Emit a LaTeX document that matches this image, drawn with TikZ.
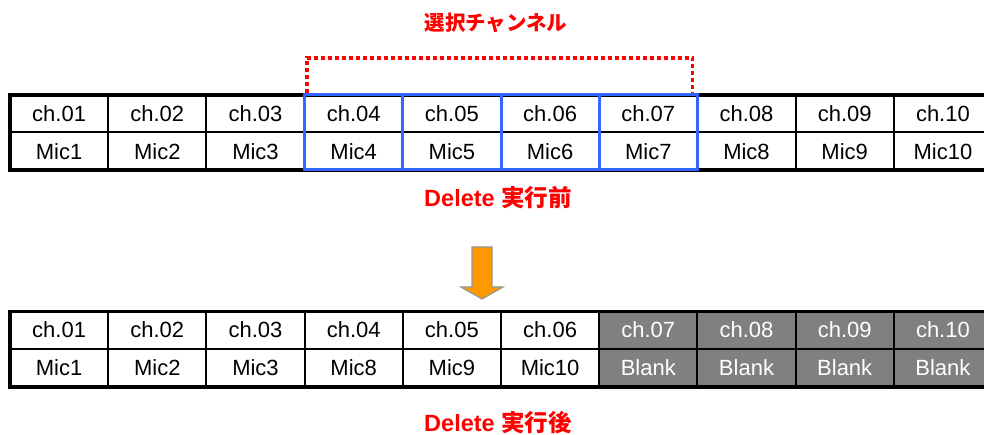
\documentclass[tikz,border=0pt]{standalone}
\usepackage{fontspec}
\setmainfont{Liberation Sans}
\newfontfamily\cjkfont{Noto Sans CJK JP}
\definecolor{selblue}{RGB}{51,102,255}
\definecolor{arrorange}{RGB}{255,153,0}
\definecolor{arrgray}{RGB}{150,150,150}
\definecolor{blankgray}{RGB}{128,128,128}
\tikzset{
  cell/.style={minimum width=98.2pt, minimum height=37.5pt, inner sep=0pt, outer sep=0pt,
    font=\fontsize{22}{24}\selectfont, anchor=center},
  blankcell/.style={cell, fill=blankgray, text=white},
  grid/.style={line width=2pt, black},
  frame/.style={line width=3.5pt, black},
  sel/.style={line width=3pt, selblue},
  redlabel/.style={text=red, font=\fontsize{23.5}{25}\selectfont\bfseries, inner sep=0pt},
  reddots/.style={red, line width=3.8pt, dash pattern=on 4pt off 3pt},
}
\begin{document}
\begin{tikzpicture}[x=1pt, y=-1pt]
\clip (0,0) rectangle (984,435);
\fill[white] (0,0) rectangle (984,435);
% ---- top table (before) ----
\foreach \i in {1,...,10} {
  \pgfmathsetmacro{\cx}{10+98.2*(\i-0.5)}
  \pgfmathtruncatemacro{\ii}{\i}
  \node[cell] (a\i) at (\cx,113.75) {ch.\ifnum\ii<10 0\fi\ii};
  \node[cell] (b\i) at (\cx,151.25) {Mic\ii};
}
% grid lines top
\draw[grid] (a1.south west) -- (a10.south east);
\foreach \i in {1,...,9} { \draw[grid] (a\i.north east) -- (b\i.south east); }
\draw[frame] (a1.north west) rectangle (b10.south east);
% selection in blue
\foreach \i in {4,5,6} { \draw[sel] (a\i.north east) -- (b\i.south east); }
\draw[sel] (a4.north west) rectangle (b7.south east);
% red dotted bracket
\coordinate (rl) at ([xshift=2pt,yshift=2pt]a4.north west);
\coordinate (rr) at ([xshift=-5pt,yshift=2pt]a7.north east);
\draw[reddots] (rl) -- ([yshift=35pt]rl) -- ([yshift=35pt]rr) -- (rr);
\node[redlabel, font=\fontsize{20.5}{22}\selectfont\bfseries\cjkfont] (title) at (496,23) {選択チャンネル};
\node[redlabel] (before) at (498,198) {Delete {\cjkfont 実行前}};
% ---- arrow ----
\draw[arrgray, line width=1.2pt, fill=arrorange, line join=miter]
  (472,247) -- (492,247) -- (492,287) -- (503,287) -- (482,299) -- (461,287) -- (472,287) -- cycle;
% ---- bottom table (after) ----
\foreach \i/\m in {1/Mic1,2/Mic2,3/Mic3,4/Mic8,5/Mic9,6/Mic10} {
  \pgfmathsetmacro{\cx}{10+98.2*(\i-0.5)}
  \node[cell] (c\i) at (\cx,330) {ch.0\i};
  \node[cell] (d\i) at (\cx,368) {\m};
}
\foreach \i in {7,8,9,10} {
  \pgfmathsetmacro{\cx}{10+98.2*(\i-0.5)}
  \pgfmathtruncatemacro{\ii}{\i}
  \node[blankcell] (c\i) at (\cx,330) {ch.\ifnum\ii<10 0\fi\ii};
  \node[blankcell] (d\i) at (\cx,368) {Blank};
}
\draw[grid] (c1.south west) -- (c10.south east);
\foreach \i in {1,...,9} { \draw[grid] (c\i.north east) -- (d\i.south east); }
\draw[frame] (c1.north west) rectangle (d10.south east);
\node[redlabel] (after) at (498,423) {Delete {\cjkfont 実行後}};
\end{tikzpicture}
\end{document}
